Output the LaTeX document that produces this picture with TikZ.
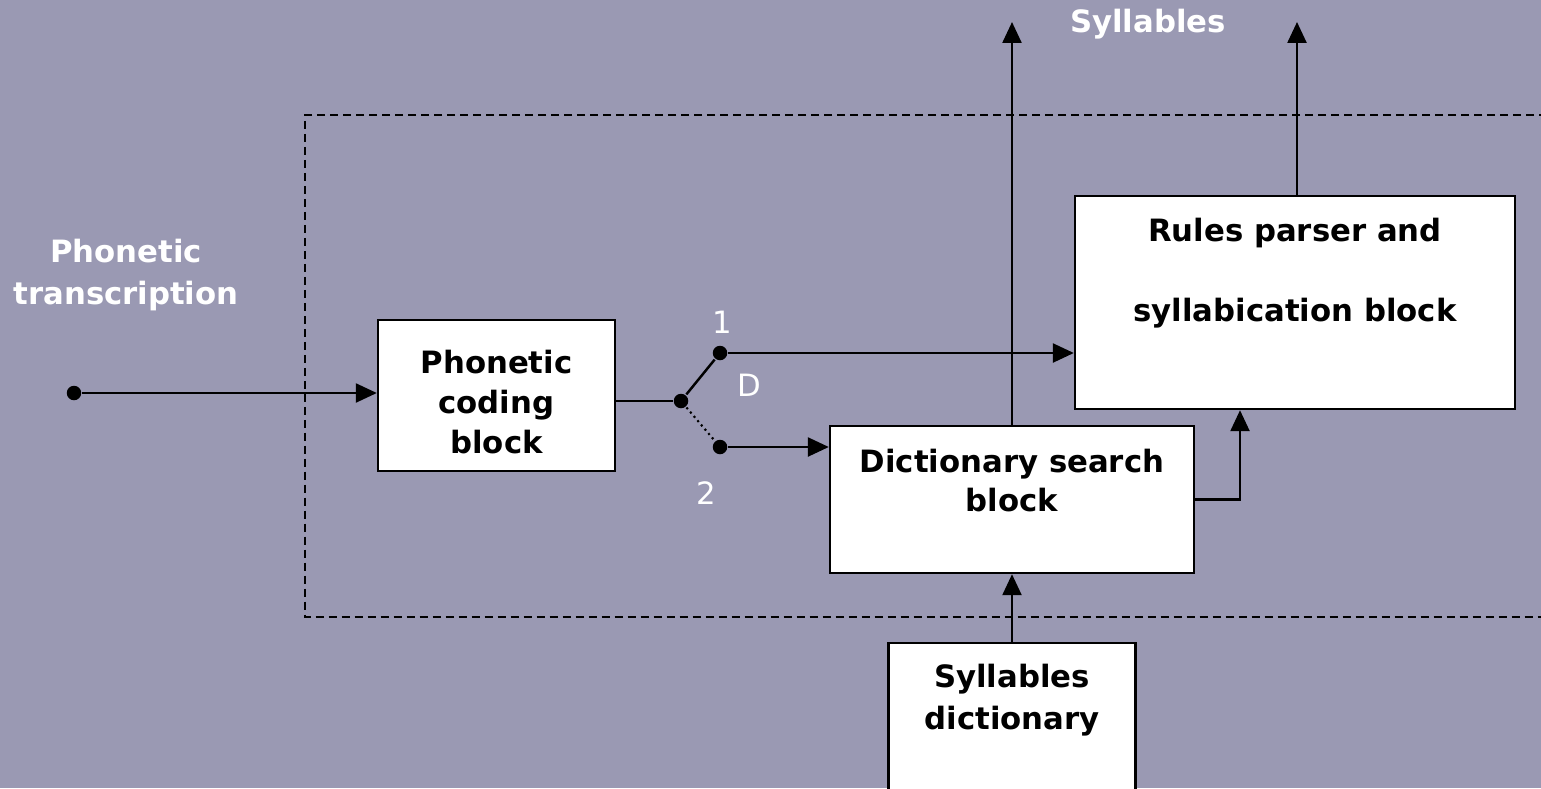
\documentclass[tikz,border=0pt]{standalone}
\usepackage{fontspec}
\setmainfont{DejaVu Sans}
\usetikzlibrary{arrows.meta,positioning}
\definecolor{slidebg}{RGB}{154,153,179}

\begin{document}
\begin{tikzpicture}[
                        x=0.02cm, y=-0.02cm,
                        >={Triangle[length=0.42cm,width=0.38cm]},
                        line width=1.4pt,
                        block/.style={rectangle, draw, fill=white, line width=1.4pt},
                        btext/.style={font=\fontsize{17.5}{22.7}\selectfont\bfseries, align=center, inner sep=0pt},
                        wtext/.style={btext, text=white},
                        num/.style={font=\fontsize{17.5}{20}\selectfont, text=white, inner sep=0pt},
                        dot/.style={circle, fill, inner sep=0pt, minimum size=0.29cm},
                        frame/.style={line width=1.3pt, dash pattern=on 0.16cm off 0.1cm}
                    ]
                    % Background
                    \fill[slidebg] (0,0) rectangle (1541,788);
                    \useasboundingbox (0,0) rectangle (1541,788);

                    % Dashed frame
                    \draw[frame] (1560,115) -- (305,115) -- (305,617) -- (1560,617);

                    % Blocks
                    \node [block, minimum width=4.74cm, minimum height=3.02cm] (coding) at (496.5,395.5) {};
                    \node [btext, font=\fontsize{17.5}{22.5}\selectfont\bfseries] (coding-txt) at (496.5,402) {Phonetic\\coding\\block};
                    \node [block, minimum width=7.28cm, minimum height=2.94cm] (dict) at (1012,499.5) {};
                    \node [btext, font=\fontsize{17.5}{22}\selectfont\bfseries] (dict-txt) at (1012,480.5) {Dictionary search\\block};
                    \node [block, minimum width=8.8cm, minimum height=4.26cm] (rules) at (1295,302.5) {};
                    \node [btext] (rules-txt) at (1295,273) {Rules parser and\\[22.7pt]syllabication block};
                    \node [block, minimum width=4.94cm, minimum height=3.6cm] (sdict) at (1012,733) {};
                    \node [btext, font=\fontsize{17.5}{23.8}\selectfont\bfseries] (sdict-txt) at (1012,700) {Syllables\\dictionary};

                    % Labels
                    \node [wtext, font=\fontsize{17.5}{24.4}\selectfont\bfseries] (input-txt) at (126,275) {Phonetic\\transcription};
                    \node [wtext] (output-txt) at (1148,24) {Syllables};

                    % Switch
                    \node [dot] (in) at (74,393) {};
                    \node [dot] (pivot) at (681,401) {};
                    \node [dot] (sw1) at (720,353) {};
                    \node [dot] (sw2) at (720,447) {};
                    \node [num] (lbl1) at (722,322) {1};
                    \node [num] (lblD) at (749,385) {D};
                    \node [num] (lbl2) at (706,493) {2};
                    \coordinate (out1) at (1012,22);
                    \coordinate (out2) at (1297,22);

                    % Connections
                    \draw [->] (in) -- (in -| coding.west);
                    \draw (pivot -| coding.east) -- (pivot);
                    \draw (pivot) -- (sw1);
                    \draw [dotted, line width=1.2pt] (pivot) -- (sw2);
                    \draw [->] (sw1) -- (sw1 -| rules.west);
                    \draw [->] (sw2) -- (sw2 -| dict.west);
                    \draw [->] (dict.north) -- (out1);
                    \draw [->] (rules.north -| out2) -- (out2);
                    \draw [->] (dict.east) -| ([xshift=-1.1cm]rules.south);
                    \draw [->] (sdict.north) -- (dict.south);
                \end{tikzpicture}
\end{document}
